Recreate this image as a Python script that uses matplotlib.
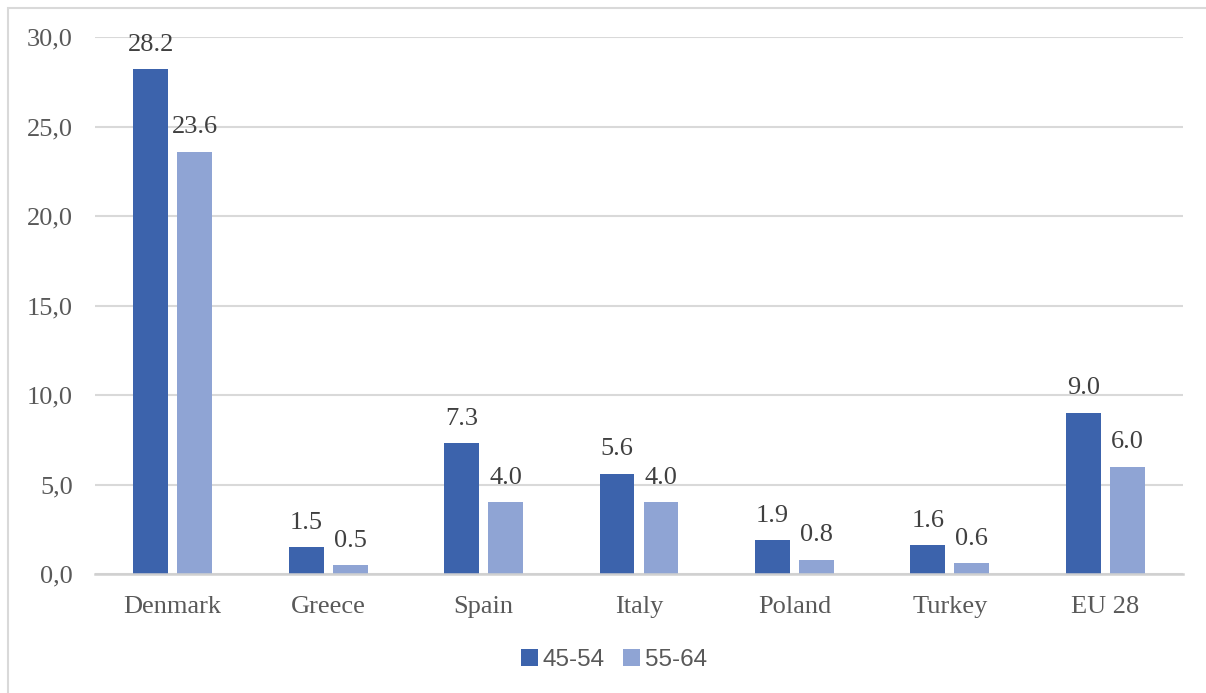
import matplotlib
matplotlib.use("Agg")
import matplotlib.pyplot as plt
import numpy as np
from matplotlib.patches import Rectangle

categories = ["Denmark", "Greece", "Spain", "Italy", "Poland", "Turkey", "EU 28"]
series_names = ["45-54", "55-64"]
values_45_54 = [28.2, 1.5, 7.3, 5.6, 1.9, 1.6, 9.0]
values_55_64 = [23.6, 0.5, 4.0, 4.0, 0.8, 0.6, 6.0]
yticks = [0, 5, 10, 15, 20, 25, 30]
ytick_labels = ["0,0", "5,0", "10,0", "15,0", "20,0", "25,0", "30,0"]

colors = ["#3C63AC", "#8FA4D4"]
serif = "Liberation Serif"
sans = "Liberation Sans"

fig = plt.figure(figsize=(12.06, 6.93), dpi=100)
ax = fig.add_axes([95 / 1206, 1 - 574 / 693, (1183 - 95) / 1206, (574 - 37) / 693])

x = np.arange(len(categories))
width = 0.225
gap = 0.058
offsets = [-(width + gap) / 2, (width + gap) / 2]

for vals, off, col, name in zip([values_45_54, values_55_64], offsets, colors, series_names):
    bars = ax.bar(x + off, vals, width, color=col, label=name, zorder=3)
    for b, v in zip(bars, vals):
        ax.text(b.get_x() + b.get_width() / 2, v + 0.75, f"{v:.1f}",
                ha="center", va="bottom", fontsize=19, family=serif,
                color="#404040", zorder=4)

ax.set_xlim(-0.5, len(categories) - 0.5)
ax.set_ylim(0, 30)
ax.set_yticks(yticks)
ax.set_yticklabels(ytick_labels, family=serif, fontsize=19, color="#595959")
ax.set_xticks(x)
ax.set_xticklabels(categories, family=serif, fontsize=19, color="#595959")
ax.tick_params(axis="both", length=0)
ax.tick_params(axis="y", pad=16)
ax.tick_params(axis="x", pad=16)

ax.grid(axis="y", color="#D9D9D9", linewidth=1.5, zorder=0)
for s in ["top", "right", "left"]:
    ax.spines[s].set_visible(False)
ax.spines["bottom"].set_color("#D0D0D0")
ax.spines["bottom"].set_linewidth(1.8)
ax.spines["bottom"].set_zorder(5)

leg = fig.legend(loc="center", bbox_to_anchor=(614 / 1206, 1 - 660 / 693),
                 ncol=2, frameon=False, handlelength=0.7, handleheight=0.7,
                 handletextpad=0.2, columnspacing=0.75,
                 prop={"family": sans, "size": 17.5})
for t in leg.get_texts():
    t.set_color("#595959")

# outer chart frame
fig.patches.append(Rectangle((8 / 1206, -0.01), 1.02, 1 - 8 / 693 + 0.01,
                             transform=fig.transFigure, fill=False,
                             edgecolor="#D9D9D9", linewidth=1.5))

fig.savefig("out.png", dpi=100)
